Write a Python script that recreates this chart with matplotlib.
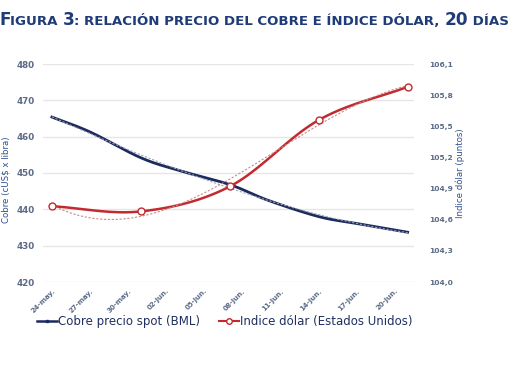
import matplotlib
matplotlib.use("Agg")
import matplotlib.pyplot as plt
import numpy as np
from matplotlib.lines import Line2D

# ---- data ----  (x = days since 24-may)
tick_days = [0, 3, 6, 9, 12, 15, 18, 21, 24, 27]
tick_labels = ["24-may.", "27-may.", "30-may.", "02-jun.", "05-jun.",
               "08-jun.", "11-jun.", "14-jun.", "17-jun.", "20-jun."]
cobre_days = [0, 3, 7, 10, 14, 17, 21, 24, 28]
cobre_vals = [465.4, 461.3, 454.2, 450.7, 446.8, 442.5, 438.0, 436.1, 433.7]
dolar_days = [0, 7, 14, 21, 28]
dolar_vals = [104.73, 104.68, 104.92, 105.56, 105.88]
left_ticks = [420, 430, 440, 450, 460, 470, 480]
right_ticks = [104.0, 104.3, 104.6, 104.9, 105.2, 105.5, 105.8, 106.1]

NAVY = "#1c2a5e"
RED = "#c22a30"
TICKC = "#5b6a86"
TITLEC = "#1f3c78"


def catmull(xs, ys, n=20):
    xs = np.asarray(xs, float); ys = np.asarray(ys, float)
    P = np.column_stack([xs, ys])
    P = np.vstack([P[0] - (P[1] - P[0]), P, P[-1] + (P[-1] - P[-2])])
    out = []
    for i in range(1, len(P) - 2):
        p0, p1, p2, p3 = P[i - 1], P[i], P[i + 1], P[i + 2]
        t = np.linspace(0, 1, n, endpoint=(i == len(P) - 3))[:, None]
        pts = 0.5 * ((2 * p1) + (-p0 + p2) * t + (2 * p0 - 5 * p1 + 4 * p2 - p3) * t ** 2
                     + (-p0 + 3 * p1 - 3 * p2 + p3) * t ** 3)
        out.append(pts)
    out = np.vstack(out)
    return out[:, 0], out[:, 1]


fig = plt.figure(figsize=(5.1, 3.65), dpi=100)
ax = fig.add_axes([43 / 510, 1 - 282 / 365, (414 - 43) / 510, (282 - 64) / 365])
ax2 = ax.twinx()

ax.set_xlim(-0.7, 28.5)
ax.set_ylim(420, 480)
ax2.set_ylim(104.0, 106.1)

for y in left_ticks:
    ax.axhline(y, color="#e6e6e6", lw=1.0, zorder=0)

# copper
cx, cy = catmull(cobre_days, cobre_vals)
ax.plot(cx, cy, color=NAVY, lw=2.0, zorder=3)
pc = np.polyfit(cobre_days, cobre_vals, 3)
xx = np.linspace(cobre_days[0], cobre_days[-1], 200)
ax.plot(xx, np.polyval(pc, xx), color="#9aa3b8", lw=0.8, ls=(0, (2, 1.5)), zorder=4)

# dollar index
dx, dy = catmull(dolar_days, dolar_vals)
ax2.plot(dx, dy, color=RED, lw=1.8, zorder=3)
pdl = np.polyfit(dolar_days, dolar_vals, 3)
ax2.plot(xx, np.polyval(pdl, xx), color="#c88a8c", lw=0.8, ls=(0, (2, 1.5)), zorder=4)
ax2.plot(dolar_days, dolar_vals, ls="none", marker="o", ms=5, mfc="white",
         mec=RED, mew=1.0, zorder=5)

# axes styling
for a in (ax, ax2):
    for s in a.spines.values():
        s.set_visible(False)
    a.tick_params(length=0)

ax.set_yticks(left_ticks)
ax.set_yticklabels([str(v) for v in left_ticks], fontsize=6.3, color=TICKC, fontweight="bold")
ax.tick_params(axis="y", pad=6)
ax2.set_yticks(right_ticks)
ax2.set_yticklabels([f"{v:.1f}".replace(".", ",") for v in right_ticks], fontsize=5.4,
                    color=TICKC, fontweight="bold")
ax2.tick_params(axis="y", pad=11)

ax.set_xticks(tick_days)
ax.set_xticklabels(tick_labels, rotation=45, ha="right", rotation_mode="anchor",
                   fontsize=5, color=TICKC, fontweight="bold")
ax.tick_params(axis="x", pad=4)

ax.set_ylabel("Cobre (cUS$ x libra)", fontsize=6.2, color="#2f4f8f")
ax.yaxis.set_label_coords(-0.087, 0.47)
ax2.set_ylabel("Indice dólar (puntos)", fontsize=6.2, color="#2f4f8f", rotation=90, labelpad=2)

# legend
handles = [Line2D([0], [0], color=NAVY, lw=1.8, marker="s", ms=2, mfc=NAVY, mec=NAVY),
           Line2D([0], [0], color=RED, lw=1.5, marker="o", ms=4, mfc="white", mec=RED)]
fig.legend(handles, ["Cobre precio spot (BML)", "Indice dólar (Estados Unidos)"],
           loc="center", bbox_to_anchor=(225 / 510, 1 - 322 / 365), ncol=2, frameon=False,
           fontsize=8.5, handlelength=1.7, handletextpad=0.1, columnspacing=1.6,
           labelcolor="#1f3060")

# title in small caps style
renderer = fig.canvas.get_renderer()
pieces = [("F", 12.2), ("IGURA ", 9.6), ("3", 12.2),
          (": RELACIÓN PRECIO DEL COBRE E ÍNDICE DÓLAR, ", 9.6), ("20", 12.2), (" DÍAS", 9.6)]
xpix = -1
ybase = 365 - 25
for txt, sz in pieces:
    t = fig.text(xpix / 510, ybase / 365, txt, fontsize=sz, fontweight="bold",
                 color=TITLEC, va="baseline", ha="left")
    bb = t.get_window_extent(renderer)
    xpix += bb.width

fig.savefig("out.png", dpi=100, facecolor="white")
